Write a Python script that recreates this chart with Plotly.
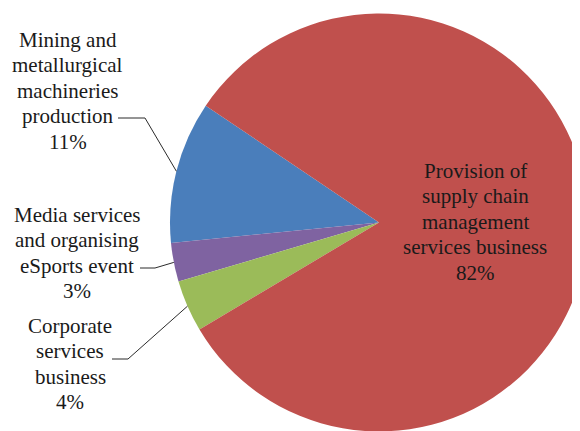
import math
import plotly.graph_objects as go

# ---- data ----
categories = [
    "Mining and metallurgical machineries production",
    "Media services and organising eSports event",
    "Corporate services business",
    "Provision of supply chain management services business",
]
label_lines = [
    ["Mining and", "metallurgical", "machineries", "production"],
    ["Media services", "and organising", "eSports event"],
    ["Corporate", "services", "business"],
    ["Provision of", "supply chain", "management", "services business"],
]
values = [11, 3, 4, 82]
colors = ["#4A7EBB", "#7F63A1", "#9BBB59", "#C0504D"]

# ---- geometry (screen pixels; the page shows the figure offset by OFF px) ----
OFF = 8
W, H = 600, 440
CX, CY, R = 379, 222.5, 209
ROT = 304.0  # boundary angle where the first slice begins (clockwise from 12 o'clock)
FS = 21
FONT = "Liberation Serif"
TXT = "#1a1a1a"
LINE_GAP = 25.5

def px(x):
    return (x - OFF) / W

def py(y):
    return 1 - (y - OFF) / H

total = sum(values)
first_span = values[0] / total * 360

fig = go.Figure(go.Pie(
    labels=categories,
    values=values,
    sort=False,
    direction="counterclockwise",
    rotation=ROT - first_span,
    marker=dict(colors=colors, line=dict(width=0)),
    textinfo="none",
    hoverinfo="label+percent",
    showlegend=False,
    domain=dict(x=[px(CX - R), px(CX + R)], y=[py(CY + R), py(CY - R)]),
))

# mid-angles of slices (clockwise from top); slices run counterclockwise from ROT
mids = []
start = ROT
for v in values:
    span = v / total * 360
    mids.append(start - span / 2)
    start -= span

def edge_point(angle_deg):
    a = math.radians(angle_deg)
    return CX + R * math.sin(a), CY - R * math.cos(a)

# label block: (center x, first baseline y); leader elbow (start x, elbow x, y)
label_pos = [(67.5, 47), (77, 222), (70, 333), (475, 178)]
leaders = [(118, 145, 118), (140, 155, 268), (112, 128, 359), None]

annotations = []
shapes = []
for i, (lines, v) in enumerate(zip(label_lines, values)):
    x, y0 = label_pos[i]
    all_lines = lines + [f"{v}%"]
    for k, line in enumerate(all_lines):
        base = y0 + k * LINE_GAP
        annotations.append(dict(
            x=px(x), y=py(base - 0.34 * FS), xref="paper", yref="paper",
            xanchor="center", yanchor="middle", align="center",
            text=line, showarrow=False,
            font=dict(family=FONT, size=FS, color=TXT),
        ))
    if leaders[i] is not None:
        x0, x1, ly = leaders[i]
        ex, ey = edge_point(mids[i])
        shapes.append(dict(type="line", xref="paper", yref="paper",
                           x0=px(x0), y0=py(ly), x1=px(x1), y1=py(ly),
                           line=dict(color="#2b2b2b", width=1)))
        shapes.append(dict(type="line", xref="paper", yref="paper",
                           x0=px(x1), y0=py(ly), x1=px(ex), y1=py(ey),
                           line=dict(color="#2b2b2b", width=1)))

fig.update_layout(
    width=W, height=H,
    autosize=False,
    margin=dict(l=0, r=0, t=0, b=0),
    paper_bgcolor="white",
    plot_bgcolor="white",
    annotations=annotations,
    shapes=shapes,
)

fig.write_html("out.html")
